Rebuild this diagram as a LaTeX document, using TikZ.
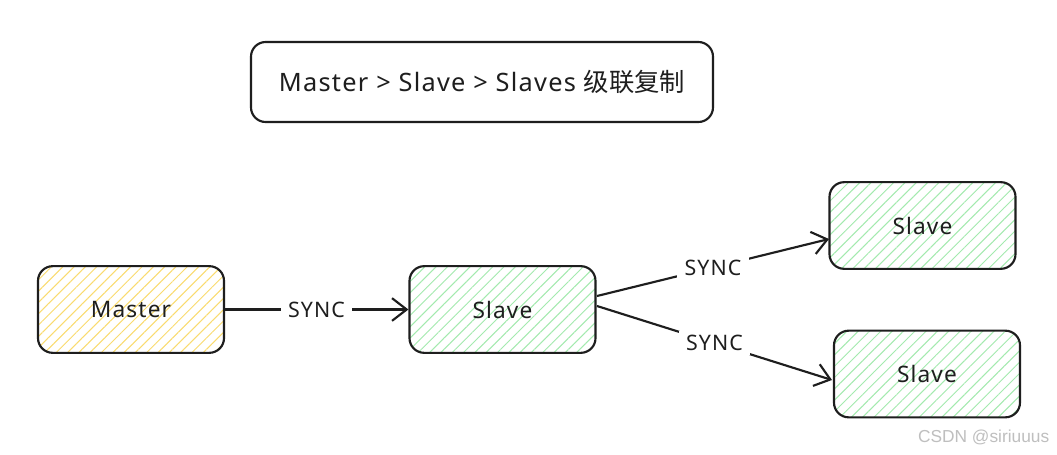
\documentclass[tikz,border=0pt]{standalone}
\usepackage{fontspec}
\setmainfont[LetterSpace=5]{Noto Sans}
\newfontfamily\cjk{Noto Sans CJK SC}
\newfontfamily\wm{Liberation Sans}
\usetikzlibrary{arrows.meta,patterns.meta}
\definecolor{hatchY}{HTML}{FADB6E}
\definecolor{hatchG}{HTML}{A3EAAE}
\definecolor{stroke}{HTML}{1E1E1E}
\tikzset{
  box/.style={draw=stroke, line width=1.6pt, rounded corners=11pt, minimum width=139.5pt, minimum height=65pt, inner sep=0pt, font=\fontsize{17}{20}\selectfont, text=stroke},
  yellowbox/.style={box, pattern={Lines[angle=45,distance=6pt,line width=0.75pt]}, pattern color=hatchY},
  greenbox/.style={box, pattern={Lines[angle=45,distance=6pt,line width=0.75pt]}, pattern color=hatchG},
  conn/.style={draw=stroke, line width=1.6pt, -{Straight Barb[length=11pt,width=17pt,line width=1.6pt]}},
  lbl/.style={fill=white, inner xsep=5.5pt, inner ysep=3pt, font=\fontsize{16}{19}\selectfont, text=stroke}
}
\begin{document}
\begin{tikzpicture}[x=0.75pt,y=-0.75pt]
\useasboundingbox (0,0) rectangle (1057,454);
\fill[white] (0,0) rectangle (1057,454);
\node[draw=stroke, line width=1.6pt, rounded corners=11pt, minimum width=346.5pt, minimum height=60pt, inner sep=0pt, font=\fontsize{19}{22}\selectfont, text=stroke] (title) at (482,82) {Master > Slave > Slaves {\cjk 级联复制}};
\node[yellowbox] (master) at (131,309.5) {Master};
\node[greenbox] (slave) at (502.5,309.5) {Slave};
\node[greenbox] (s1) at (922.5,225.5) {Slave};
\node[greenbox] (s2) at (927,374) {Slave};
\coordinate (o2) at (597,296);
\coordinate (o3) at (597,306);
\coordinate (e2) at (829,239);
\coordinate (e3) at (832,380);
\draw[conn] (master.east) -- node[lbl]{SYNC} (slave.west);
\draw[conn] (o2) -- node[lbl]{SYNC} (e2);
\draw[conn] (o3) -- node[lbl]{SYNC} (e3);
\node[font=\wm\fontsize{13}{15}\selectfont, text=black!25, anchor=east] (wmk) at (1054,437) {CSDN @siriuuus};
\end{tikzpicture}
\end{document}
